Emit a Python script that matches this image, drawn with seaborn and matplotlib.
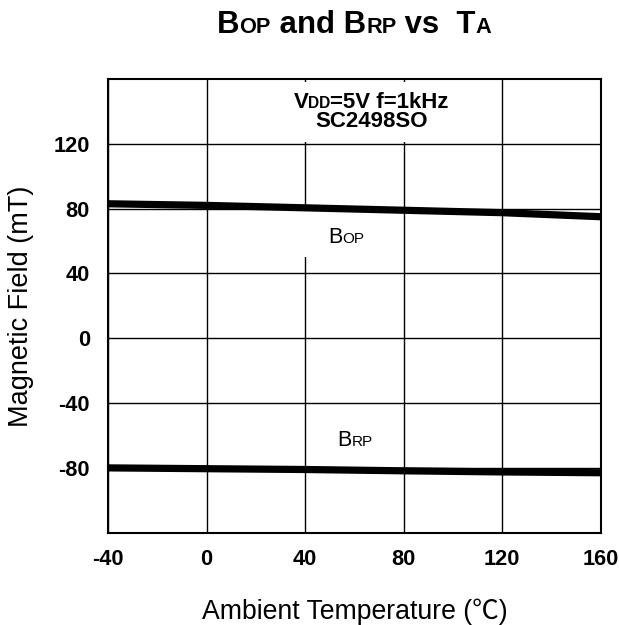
import matplotlib
matplotlib.use("Agg")
import matplotlib.pyplot as plt
from matplotlib.transforms import IdentityTransform
from matplotlib.patches import Rectangle
import seaborn as sns
import pandas as pd

# ---- data ----
temps = [-40, 0, 40, 80, 120, 160]
bop = [83, 82, 80.5, 79, 77.5, 75]
brp = [-80, -80.5, -81, -81.8, -82.5, -83]
x_ticks = [-40, 0, 40, 80, 120, 160]
x_tick_labels = ["-40", "0", "40", "80", "120", "160"]
y_ticks = [-80, -40, 0, 40, 80, 120]
y_tick_labels = ["-80", "-40", "0", "40", "80", "120"]

sns.set_theme(style="white")
plt.rcParams["font.family"] = ["Liberation Sans", "Noto Sans CJK SC", "DejaVu Sans"]

fig = plt.figure(figsize=(6.19, 6.25), dpi=100)
ax = fig.add_axes([108 / 619, 1 - 532.7 / 625, (600.7 - 108) / 619, (532.7 - 79) / 625])

df = pd.concat([
    pd.DataFrame({"T": temps, "B": bop, "s": "BOP"}),
    pd.DataFrame({"T": temps, "B": brp, "s": "BRP"}),
])
sns.lineplot(data=df, x="T", y="B", hue="s", palette=["black", "black"],
             linewidth=5.2, legend=False, ax=ax, zorder=2,
             estimator=None, solid_capstyle="butt")

ax.set_xlim(-40, 160)
ax.set_ylim(-120, 160)
ax.set_xticks(x_ticks, x_tick_labels)
ax.set_yticks(y_ticks, y_tick_labels)
ax.tick_params(axis="both", length=0, labelsize=15.7)
ax.tick_params(axis="x", pad=12)
ax.tick_params(axis="y", pad=13)
for lab in ax.get_xticklabels() + ax.get_yticklabels():
    lab.set_fontweight("bold")
    lab.set_color("black")
ax.grid(True, color="black", linewidth=1.0)
ax.set_axisbelow(True)
for sp in ax.spines.values():
    sp.set_color("black")
    sp.set_linewidth(1.5)

ax.set_xlabel("Ambient Temperature (℃)", fontsize=19.2, color="black", labelpad=20)
ax.set_ylabel("Magnetic Field (mT)", fontsize=19.5, color="black", labelpad=14)

fig.canvas.draw()
renderer = fig.canvas.get_renderer()


def rich_text(x0, y0, pieces, weight):
    """Draw pieces (text, size) side by side centred at display x0, baseline y0."""
    texts, widths = [], []
    for s, size in pieces:
        t = ax.text(0, 0, s, fontsize=size, fontweight=weight, color="black",
                    transform=IdentityTransform(), ha="left", va="baseline",
                    zorder=4, clip_on=False)
        bb = t.get_window_extent(renderer)
        widths.append(bb.width)
        texts.append(t)
    total = sum(widths)
    cx = x0 - total / 2
    for t, w in zip(texts, widths):
        t.set_position((cx, y0))
        cx += w
    fig.canvas.draw()
    exts = [t.get_window_extent(renderer) for t in texts]
    return (min(e.x0 for e in exts), min(e.y0 for e in exts),
            max(e.x1 for e in exts), max(e.y1 for e in exts))


def white_box(ext, padx_l, padx_r, pady_b, pady_t):
    x0, y0, x1, y1 = ext
    ax.add_patch(Rectangle((x0 - padx_l, y0 - pady_b),
                           (x1 - x0) + padx_l + padx_r, (y1 - y0) + pady_b + pady_t,
                           transform=IdentityTransform(), facecolor="white",
                           edgecolor="none", zorder=1))


H = 625
# Title
axbb = ax.get_window_extent(renderer)
cx_title = (axbb.x0 + axbb.x1) / 2
rich_text(cx_title, H - 33, [("B", 22.4), ("OP", 15.7), (" and B", 22.4), ("RP", 15.7),
                             (" vs  T", 22.4), ("A", 15.7)], "bold")

# Condition text box
p1 = ax.transData.transform((66.8, 142.1))
p2 = ax.transData.transform((66.8, 130.4))
e1 = rich_text(p1[0], p1[1], [("V", 16), ("DD", 11.2), ("=5V f=1kHz", 16)], "bold")
e2 = rich_text(p2[0], p2[1], [("SC2498SO", 16)], "bold")
white_box((min(e1[0], e2[0]), e2[1], max(e1[2], e2[2]), e1[3]), 8, 10, 10, 10)

# Curve labels
pb = ax.transData.transform((56.6, 58.8))
eb = rich_text(pb[0], pb[1], [("B", 15.5), ("OP", 11)], "normal")
white_box(eb, 30, 30, 9, 17)

pr = ax.transData.transform((60.3, -66.5))
rich_text(pr[0], pr[1], [("B", 15.5), ("RP", 11)], "normal")

fig.savefig("out.png", dpi=100)
